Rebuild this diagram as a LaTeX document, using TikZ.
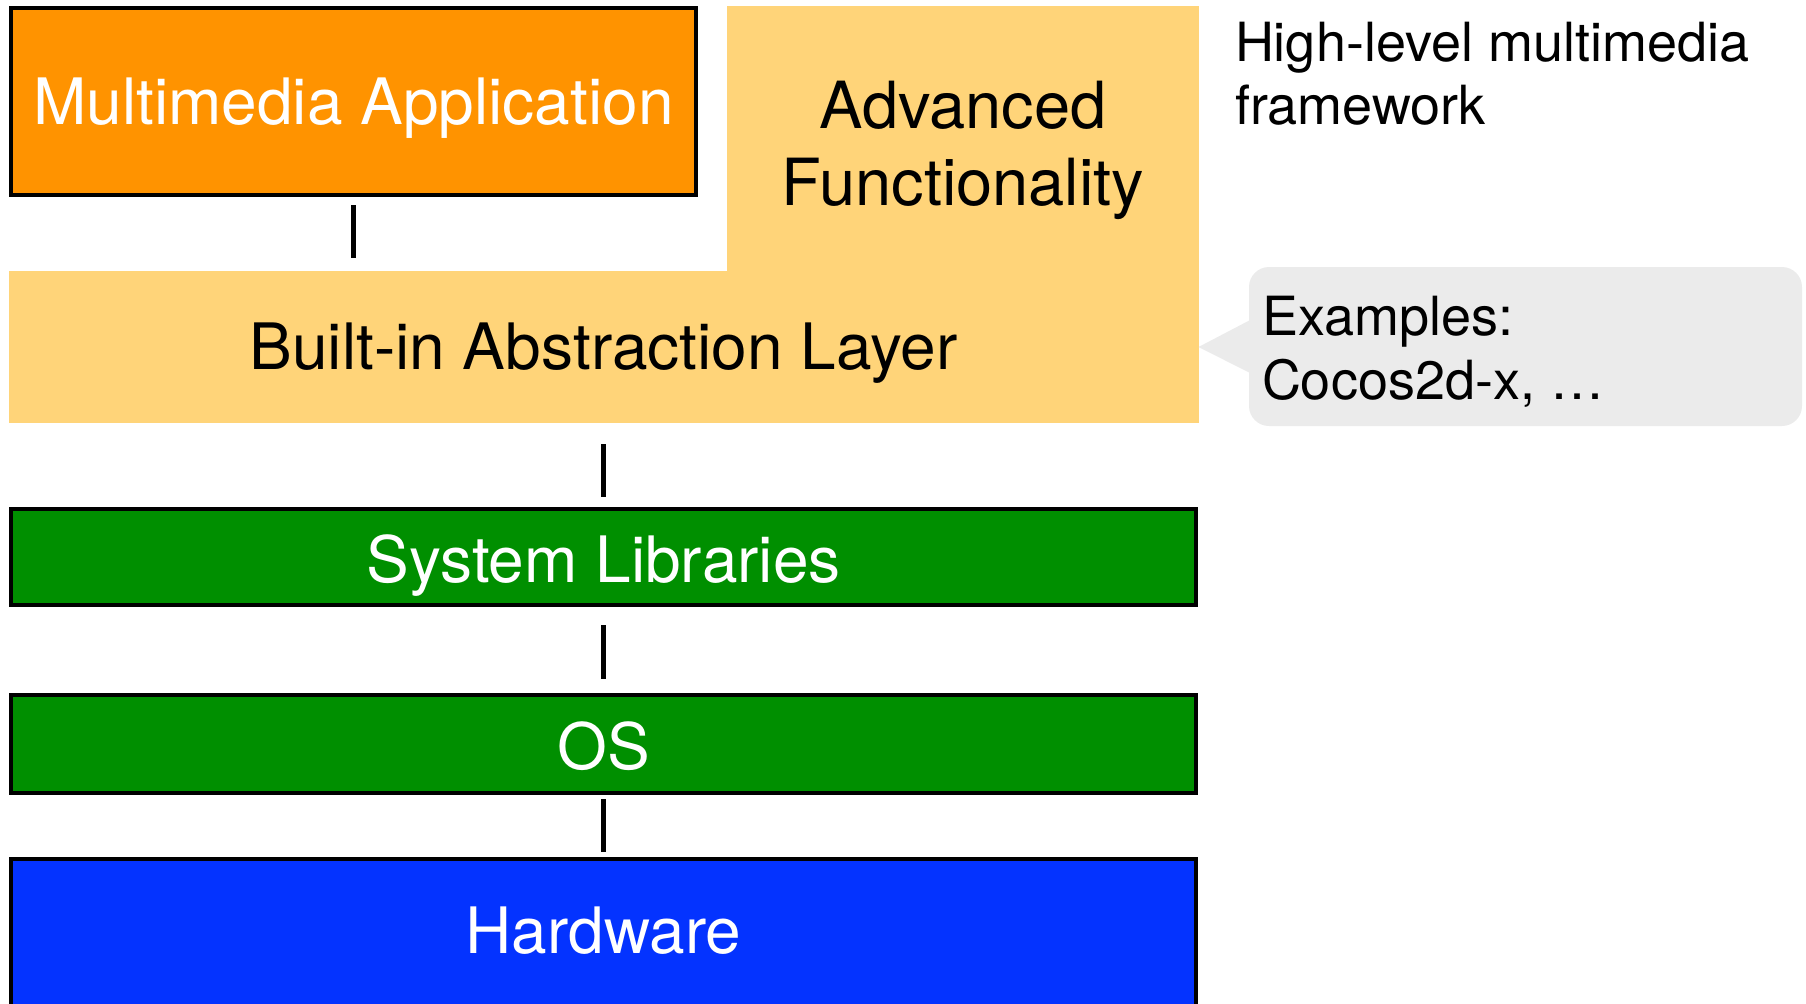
\documentclass[tikz,border=0pt]{standalone}
\usepackage{fontspec}
\setmainfont{TeX Gyre Heros}
\definecolor{tangerine}{RGB}{255,147,0}
\definecolor{clover}{RGB}{0,143,0}
\definecolor{blueberry}{RGB}{4,51,255}
\definecolor{cantaloupe}{RGB}{255,212,121}
\definecolor{bubblegray}{RGB}{235,235,235}
\begin{document}
\begin{tikzpicture}[x=0.5pt, y=-0.5pt,
  every node/.style={inner sep=0pt, outer sep=0pt},
  bigtext/.style={font=\fontsize{32pt}{38.5pt}\selectfont},
  smalltext/.style={font=\fontsize{27pt}{31.5pt}\selectfont, align=left, anchor=north west},
  stackbox/.style={draw=black, line width=2.2pt, text=white, bigtext,
    text height=23pt, text depth=0pt},
  palebox/.style={fill=cantaloupe, text=black, bigtext},
  link/.style={draw=black, line width=2.2pt}
]
\useasboundingbox (0,0) rectangle (1806,1003);

% application on top
\node[stackbox, fill=tangerine, minimum width=342.5pt, minimum height=93.5pt,
  text height=22.5pt] (app) at (353.5,101.5) {Multimedia Application};

% framework: abstraction layer plus advanced functionality block
\node[palebox, minimum width=236pt, minimum height=135pt] (adv) at (963,141) {};
\node[palebox, minimum width=595pt, minimum height=76pt,
  text height=22pt, text depth=0pt] (abs) at (603.5,347) {Built-in Abstraction Layer};
\node[bigtext, font=\fontsize{32.5pt}{38.5pt}\selectfont, align=center, anchor=north]
  (advtext) at (963,81) {Advanced\\Functionality};

% lower layers
\node[stackbox, fill=clover, minimum width=592.5pt, minimum height=48pt,
  text height=25pt] (libs) at (603.5,557) {System Libraries};
\node[stackbox, fill=clover, minimum width=592.5pt, minimum height=49pt,
  text height=25pt] (os) at (603.5,744) {OS};
\node[stackbox, fill=blueberry, minimum width=592.5pt, minimum height=90.5pt,
  text depth=19.5pt] (hw) at (603.5,949.5) {Hardware};

% speech bubble with examples
\node[fill=bubblegray, rounded corners=10pt, minimum width=276.5pt, minimum height=79.5pt]
  (bubble) at (1525.5,346.5) {};
\fill[bubblegray] ([xshift=2pt,yshift=14pt]bubble.west) -- (abs.east)
  -- ([xshift=2pt,yshift=-14pt]bubble.west) -- cycle;
\node[smalltext, font=\fontsize{27pt}{32pt}\selectfont] (examples) at (1262,296)
  {Examples:\\Cocos2d-x, …};

% side note
\node[smalltext] (note) at (1235,22) {High-level multimedia\\framework};

% connectors between the layers
\draw[link, shorten <=5pt, shorten >=6.5pt] (app.south) -- (app.south |- abs.north);
\draw[link, shorten <=10.5pt, shorten >=6pt] (abs.south) -- (libs.north);
\draw[link, shorten <=10pt, shorten >=8pt] (libs.south) -- (os.north);
\draw[link, shorten <=3pt, shorten >=3.5pt] (os.south) -- (hw.north);
\end{tikzpicture}
\end{document}
